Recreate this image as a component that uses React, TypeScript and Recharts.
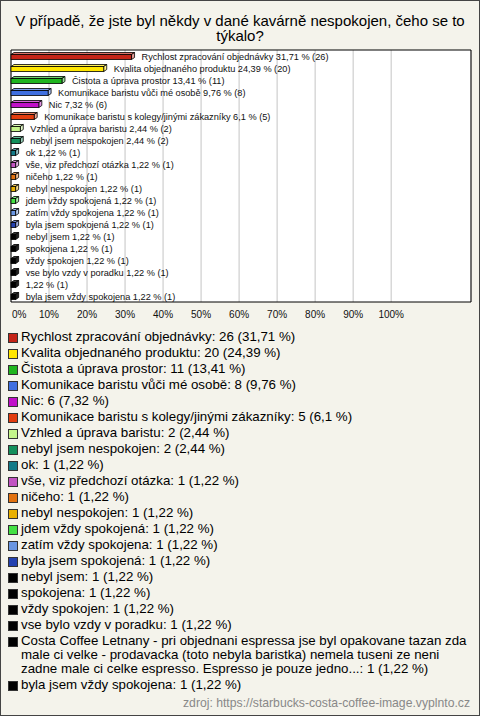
import React from "react";
import { BarChart, Bar, XAxis, YAxis, CartesianGrid, ReferenceArea, Cell } from "recharts";

const title = "V případě, že jste byl někdy v dané kavárně nespokojen, čeho se to týkalo?";
const source = "zdroj: https://starbucks-costa-coffee-image.vyplnto.cz";

const categories = [
  "Rychlost zpracování objednávky",
  "Kvalita objednaného produktu",
  "Čistota a úprava prostor",
  "Komunikace baristu vůči mé osobě",
  "Nic",
  "Komunikace baristu s kolegy/jinými zákazníky",
  "Vzhled a úprava baristu",
  "nebyl jsem nespokojen",
  "ok",
  "vše, viz předchozí otázka",
  "ničeho",
  "nebyl nespokojen",
  "jdem vždy spokojená",
  "zatím vždy spokojena",
  "byla jsem spokojená",
  "nebyl jsem",
  "spokojena",
  "vždy spokojen",
  "vse bylo vzdy v poradku",
  "Costa Coffee Letnany - pri objednani espressa jse byl opakovane tazan zda male ci velke - prodavacka (toto nebyla baristka) nemela tuseni ze neni zadne male ci celke espresso. Espresso je pouze jedno...",
  "byla jsem vždy spokojena",
];

const barNames = [
  "Rychlost zpracování objednávky",
  "Kvalita objednaného produktu",
  "Čistota a úprava prostor",
  "Komunikace baristu vůči mé osobě",
  "Nic",
  "Komunikace baristu s kolegy/jinými zákazníky",
  "Vzhled a úprava baristu",
  "nebyl jsem nespokojen",
  "ok",
  "vše, viz předchozí otázka",
  "ničeho",
  "nebyl nespokojen",
  "jdem vždy spokojená",
  "zatím vždy spokojena",
  "byla jsem spokojená",
  "nebyl jsem",
  "spokojena",
  "vždy spokojen",
  "vse bylo vzdy v poradku",
  "",
  "byla jsem vždy spokojena",
];

const counts = [26, 20, 11, 8, 6, 5, 2, 2, 1, 1, 1, 1, 1, 1, 1, 1, 1, 1, 1, 1, 1];
const percents = [31.71, 24.39, 13.41, 9.76, 7.32, 6.1, 2.44, 2.44, 1.22, 1.22, 1.22, 1.22, 1.22, 1.22, 1.22, 1.22, 1.22, 1.22, 1.22, 1.22, 1.22];

const colors = [
  "#c42418", "#ffe600", "#1fb51f", "#3f6fe0", "#c010c8", "#e23c0e",
  "#c4f48a", "#13905c", "#137a88", "#c254c2", "#e27210", "#e8b000",
  "#44e044", "#6a96e2", "#2442b0", "#000000", "#000000", "#000000",
  "#000000", "#000000", "#000000",
];

const xTicks = [0, 10, 20, 30, 40, 50, 60, 70, 80, 90, 100];

const fmt = (v: number) => String(v).replace(".", ",");

const data = categories.map((c, i) => ({
  name: c,
  barName: barNames[i],
  value: percents[i],
  count: counts[i],
  color: colors[i],
}));

const FONT = "'Liberation Sans', Arial, Helvetica, sans-serif";

function lighten(hex: string, amt: number) {
  const n = parseInt(hex.slice(1), 16);
  const r = (n >> 16) & 255, g = (n >> 8) & 255, b = n & 255;
  const m = (c: number) => Math.round(c + (255 - c) * amt);
  return `rgb(${m(r)},${m(g)},${m(b)})`;
}

const Bar3D = (props: any) => {
  const { x, y, width, height, payload } = props;
  const col = payload.color;
  const dx = 3, dy = -2;
  const yy = y + 0.5;
  const x1 = x + width;
  const label = (payload.barName ? payload.barName + " " : "") + `${fmt(payload.value)} % (${payload.count})`;
  return (
    <g>
      <polygon
        points={`${x},${yy} ${x + dx},${yy + dy} ${x1 + dx},${yy + dy} ${x1},${yy}`}
        fill={col === "#000000" ? "#333" : lighten(col, 0.35)}
        stroke="#000"
        strokeWidth={0.8}
      />
      <polygon
        points={`${x1},${yy} ${x1 + dx},${yy + dy} ${x1 + dx},${yy + height + dy} ${x1},${yy + height}`}
        fill={col === "#000000" ? "#222" : lighten(col, 0.55)}
        stroke="#000"
        strokeWidth={0.8}
      />
      <rect x={x} y={yy} width={width} height={height} fill={col} stroke="#000" strokeWidth={0.8} />
      <text
        x={x1 + 10}
        y={yy + height / 2 - 0.5}
        dominantBaseline="central"
        fontSize={9.2}
        fontFamily={FONT}
        fill="#111"
      >
        {label}
      </text>
    </g>
  );
};

const Tick = (props: any) => {
  const { x, y, payload } = props;
  const v = payload.value;
  return (
    <text
      x={v === 0 ? x + 1 : x}
      y={y + 8}
      textAnchor={v === 0 ? "start" : "middle"}
      fontSize={10}
      fontFamily={FONT}
      fill="#111"
    >
      {`${v}%`}
    </text>
  );
};

export default function App() {
  return (
    <div
      style={{
        position: "absolute",
        left: 0,
        top: 0,
        width: 480,
        height: 716,
        boxSizing: "border-box",
        border: "1px solid #444",
        background: "#f4f3eb",
        fontFamily: FONT,
        overflow: "hidden",
      }}
    >
      <div
        style={{
          position: "absolute",
          left: 0,
          top: 12,
          width: 478,
          textAlign: "center",
          fontSize: 15,
          lineHeight: "15px",
          color: "#000",
        }}
      >
        {title}
      </div>
      <div style={{ position: "absolute", left: -1, top: -1 }}>
        <BarChart
          width={480}
          height={330}
          data={data}
          layout="vertical"
          margin={{ top: 50, right: 9, left: 11, bottom: 0 }}
          barCategoryGap={0}
        >
          <CartesianGrid horizontal={false} stroke="#c4c4c4" fill="#ffffff" fillOpacity={1} />
          <XAxis
            type="number"
            domain={[0, 121]}
            ticks={xTicks}
            axisLine={false}
            tickLine={false}
            height={28}
            tick={<Tick />}
            interval={0}
          />
          <YAxis type="category" dataKey="name" hide width={0} />
          <ReferenceArea x1={0} x2={121} fill="none" stroke="#000" strokeWidth={1} ifOverflow="visible" />
          <Bar dataKey="value" barSize={5} isAnimationActive={false} shape={<Bar3D />}>
            {data.map((d, i) => (
              <Cell key={i} fill={d.color} />
            ))}
          </Bar>
        </BarChart>
      </div>
      <div
        style={{
          position: "absolute",
          left: 7,
          top: 329,
          width: 466,
          fontSize: 13.3,
          lineHeight: "14px",
          color: "#000",
        }}
      >
        {data.map((d, i) => (
          <div key={i} style={{ display: "flex", alignItems: "flex-start", paddingBottom: 2 }}>
            <span
              style={{
                display: "inline-block",
                width: 8,
                height: 8,
                marginTop: 3,
                marginRight: 3,
                flex: "0 0 auto",
                background: d.color,
                border: "1px solid #333",
              }}
            />
            <span>{`${d.name}: ${d.count} (${fmt(d.value)} %)`}</span>
          </div>
        ))}
      </div>
      <div
        style={{
          position: "absolute",
          right: 9,
          top: 695,
          fontSize: 12.2,
          lineHeight: "14px",
          color: "#888",
        }}
      >
        {source}
      </div>
    </div>
  );
}
